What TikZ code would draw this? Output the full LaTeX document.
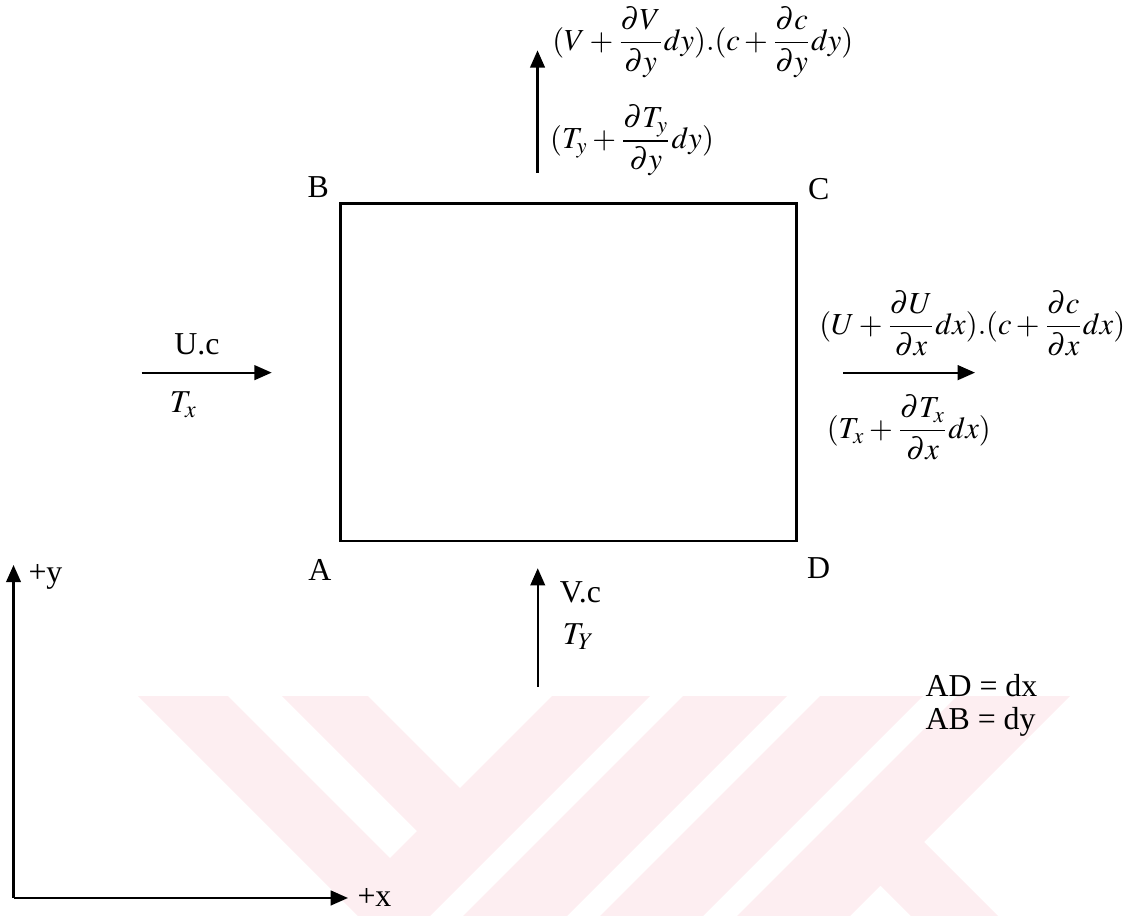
\documentclass[tikz,border=0pt]{standalone}
\usepackage{amsmath}
\usepackage{mathptmx}
\usepackage{fontspec}
\setmainfont{Liberation Serif}
\usepackage{tikz}
\usetikzlibrary{arrows.meta, positioning}
\usepackage{xcolor}
\definecolor{markpink}{RGB}{253, 238, 241}
\newcommand{\pfrac}[2]{\dfrac{\partial #1}{\partial #2}}
\tikzset{
  cellbox/.style  = {draw=black, line width=1.1pt},
  flux/.style     = {-{Triangle[length=6.5pt, width=5.5pt]}, line width=0.85pt, black},
  axisline/.style = {-{Triangle[length=6.5pt, width=5.5pt]}, line width=0.9pt, black},
  corner/.style   = {inner sep=0pt, font=\fontsize{12}{14}\selectfont},
  txt/.style      = {inner sep=0pt, anchor=base west, font=\fontsize{12}{14}\selectfont},
  eqn/.style      = {inner sep=0pt, anchor=west, font=\fontsize{11.5}{14}\selectfont},
  wmark/.style    = {fill=markpink, draw=none},
}

\begin{document}
\begin{tikzpicture}
\useasboundingbox (0,0) rectangle (15,12.116);

% ===== watermark (pixel units) =====
\begin{scope}[yshift=12.116cm, x=0.013228cm, y=-0.013228cm]
  \fill[wmark] (138,696) -- (228,696) -- (390,858) -- (417,831) -- (282,696) -- (368,696)
    -- (460,788) -- (552,696) -- (650,696) -- (430,916) -- (358,916) -- cycle;
  \fill[wmark] (683,696) -- (787,696) -- (567,916) -- (463,916) -- cycle;
  \fill[wmark] (820,696) -- (923,696) -- (703,916) -- (600,916) -- cycle;
  \fill[wmark] (957,696) -- (1070,696) -- (924,842) -- (998,916) -- (911,916)
    -- (880.5,885.5) -- (850,916) -- (737,916) -- cycle;
\end{scope}

% ===== control volume =====
\coordinate (A) at (4.50,4.96);
\coordinate (B) at (4.50,9.43);
\coordinate (C) at (10.54,9.43);
\coordinate (D) at (10.54,4.96);
\draw[cellbox] (A) -- (B) -- (C) -- (D) -- cycle;
\node[corner] (nB) at (4.21,9.64) {B};
\node[corner] (nC) at (10.83,9.61) {C};
\node[corner] (nA) at (4.23,4.58) {A};
\node[corner] (nD) at (10.83,4.60) {D};

% top face
\coordinate (topS) at (7.11,9.83);
\coordinate (topE) at (7.11,11.45);
\draw[flux] (topS) -- (topE);
\node[eqn] (fluxTop) at (7.30,11.56) {$\medmuskip=2.5mu (V+\pfrac{V}{y}dy).(c+\pfrac{c}{y}dy)$};
\node[eqn] (diffTop) at (7.27,10.26) {$\medmuskip=2.5mu (T_y+\pfrac{T_y}{y}dy)$};

% left face
\coordinate (inS) at (1.874,7.187);
\coordinate (inE) at (3.594,7.187);
\draw[flux] (inS) -- (inE);
\node[txt] (fluxIn) at (2.30,7.421) {U.c};
\node[txt] (diffIn) at (2.24,6.654) {$T_x$};

% right face
\coordinate (outS) at (11.151,7.187);
\coordinate (outE) at (12.897,7.187);
\draw[flux] (outS) -- (outE);
\node[eqn] (fluxRight) at (10.83,7.84) {$\medmuskip=2.5mu (U+\pfrac{U}{x}dx).(c+\pfrac{c}{x}dx)$};
\node[eqn] (diffRight) at (10.93,6.46) {$\medmuskip=2.5mu (T_x+\pfrac{T_x}{x}dx)$};

% bottom face
\coordinate (botS) at (7.113,3.033);
\coordinate (botE) at (7.113,4.600);
\draw[flux] (botS) -- (botE);
\node[txt] (fluxBot) at (7.40,4.140) {V.c};
\node[txt] (diffBot) at (7.44,3.585) {$T_Y$};

% sizes
\node[txt] (sizeX) at (12.235,2.897) {AD = dx};
\node[txt] (sizeY) at (12.235,2.460) {AB = dy};

% ===== axes =====
\coordinate (O) at (0.179,0.238);
\coordinate (yTip) at (0.179,4.643);
\coordinate (xTip) at (4.603,0.238);
\draw[axisline] (O) -- (yTip);
\draw[axisline] (O) -- (xTip);
\node[txt] (labY) at (0.37,4.405) {+y};
\node[txt] (labX) at (4.722,0.119) {+x};

\end{tikzpicture}
\end{document}
